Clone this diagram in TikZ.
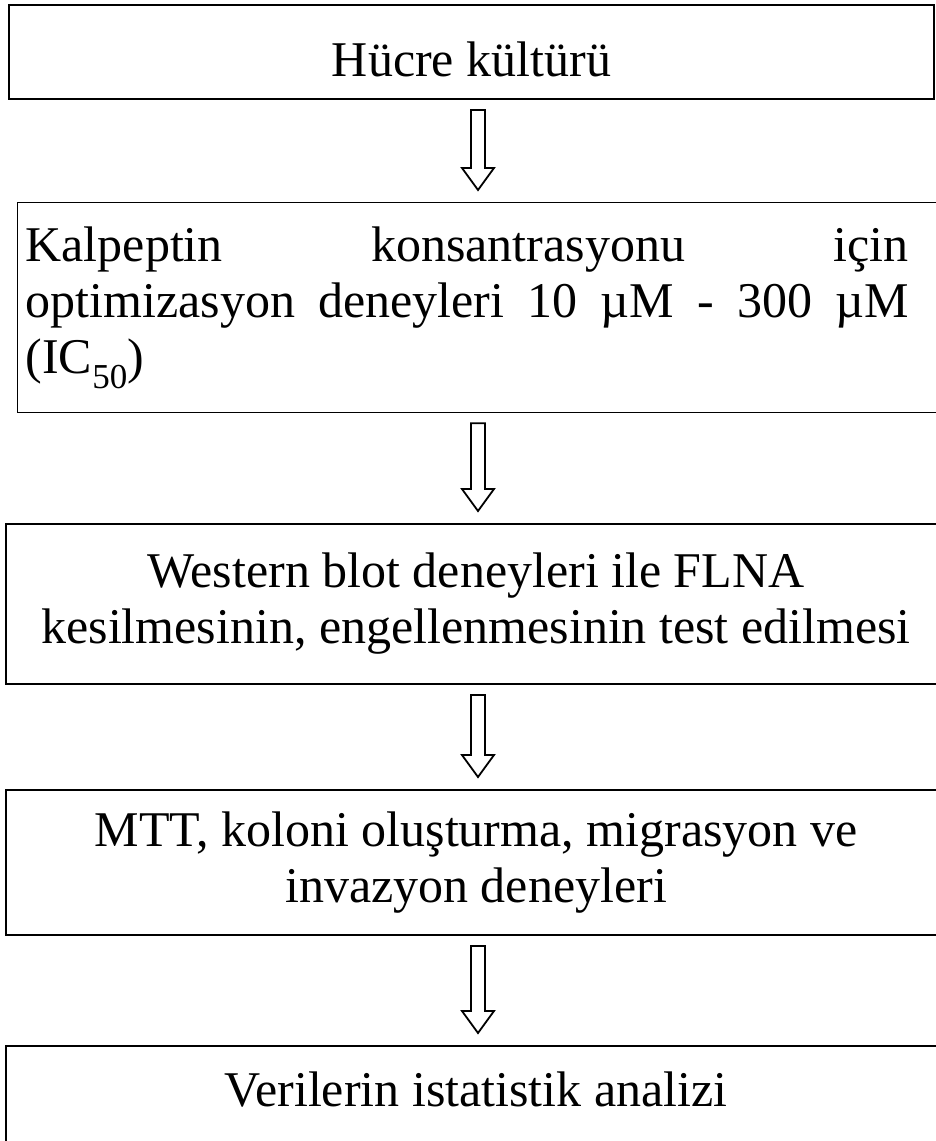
\documentclass[tikz,border=0pt]{standalone}
\usepackage{fontspec}
\setmainfont{Liberation Serif}
\usetikzlibrary{calc}

\begin{document}
\begin{tikzpicture}[x=1pt, y=-1pt,
    stage/.style={draw, line width=2pt, anchor=north west, inner sep=0pt,
        font=\fontsize{50}{56}\selectfont, align=center},
    hollow/.style={line width=1.8pt, line join=miter, to path={
        ($(\tikztostart)+(-7,10)$) -- ($(\tikztotarget)+(-7,-34)$)
        -- ($(\tikztotarget)+(-16,-34)$) -- ($(\tikztotarget)+(0,-12)$)
        -- ($(\tikztotarget)+(16,-34)$) -- ($(\tikztotarget)+(7,-34)$)
        -- ($(\tikztostart)+(7,10)$) -- cycle}}
]
    \useasboundingbox (0,0) rectangle (935,1141);
    \coordinate (ax) at (478,0);

    \node[stage, minimum width=925pt, minimum height=94pt, text height=48pt, text depth=0pt]
        (cult) at (8,4) {Hücre kültürü};
    \node[stage, line width=1.2pt, minimum width=933pt, minimum height=210pt, text width=917pt, align=left]
        (opt) at (17,202) {\makebox[883pt][l]{Kalpeptin\hfill konsantrasyonu\hfill için}\\
        \makebox[883pt][l]{optimizasyon\hfill deneyleri\hfill 10\hfill µM\hfill -\hfill 300\hfill µM}\\
        (IC\textsubscript{50})};
    \node[stage, minimum width=940pt, minimum height=160pt]
        (blot) at (5,523) {Western blot deneyleri ile FLNA\\ kesilmesinin, engellenmesinin test edilmesi};
    \node[stage, minimum width=940pt, minimum height=145pt]
        (mtt) at (5,789) {MTT, koloni oluşturma, migrasyon ve\\ invazyon deneyleri};
    \node[stage, minimum width=940pt, minimum height=105pt, text height=34pt, text depth=19pt]
        (stat) at (5,1045) {Verilerin istatistik analizi};

    \draw[hollow] (cult.south -| ax) to (opt.north -| ax);
    \draw[hollow] (opt.south -| ax) to (blot.north -| ax);
    \draw[hollow] (blot.south -| ax) to (mtt.north -| ax);
    \draw[hollow] (mtt.south -| ax) to (stat.north -| ax);
\end{tikzpicture}
\end{document}
